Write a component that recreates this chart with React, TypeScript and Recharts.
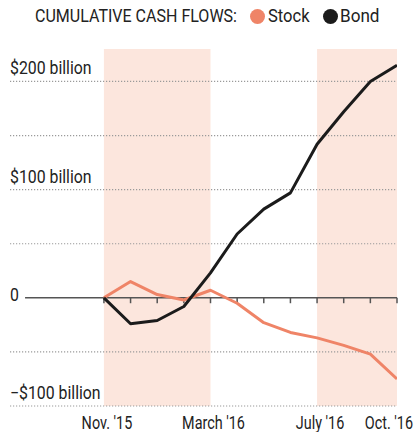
import { ComposedChart, Line, XAxis, YAxis, ReferenceLine, ReferenceArea } from "recharts";

const MONTHS = ["Nov. '15", "Dec.", "Jan.", "Feb.", "March '16", "April", "May", "June", "July '16", "Aug.", "Sept.", "Oct. '16"];
const LABELED_MONTHS = [0, 4, 8, 11];
const STOCK = [0, 15, 3, -2, 7, -5, -23, -32, -37, -44, -52, -75];
const BOND = [0, -24, -21, -8, 23, 59, 82, 97, 142, 172, 200, 215];
const GRID_VALUES = [-100, -50, 50, 100, 150, 200];
const Y_TICKS = [-100, 0, 100, 200];
const Y_LABELS: Record<number, string> = { 200: "$200 billion", 100: "$100 billion", 0: "0", [-100]: "\u2212$100 billion" };
const SHADED: [number, number][] = [[0, 4], [8, 11]];

const FONT = "Roboto, 'Liberation Sans', sans-serif";
const TEXT = "#222";
const STOCK_COLOR = "#ef8467";
const BOND_COLOR = "#1b1b1b";
const BAND = "#fce6dd";

const data = MONTHS.map((label, i) => ({ i, label, stock: STOCK[i], bond: BOND[i] }));

// narrow the font a bit, the original uses a condensed face
function Narrow({ x, y, s, anchor = "start", children }: any) {
  return (
    <text
      transform={`translate(${x} ${y}) scale(${s} 1)`}
      textAnchor={anchor}
      fontFamily={FONT}
      fontSize={18}
      fill={TEXT}
    >
      {children}
    </text>
  );
}

function XTick({ x, payload }: any) {
  const i = payload.value as number;
  const last = i === MONTHS.length - 1;
  return (
    <Narrow x={last ? x + 16 : x + 3} y={429} s={0.8} anchor={last ? "end" : "middle"}>
      {MONTHS[i]}
    </Narrow>
  );
}

function yLabel(v: number) {
  return ({ viewBox }: any) => (
    <Narrow x={10} y={v === 0 ? viewBox.y + 3 : viewBox.y - 7} s={0.88}>
      {Y_LABELS[v]}
    </Narrow>
  );
}

const legendText = (s: number) => ({
  position: "absolute" as const,
  top: 5,
  display: "inline-block",
  transform: `scaleX(${s})`,
  transformOrigin: "left",
  whiteSpace: "nowrap" as const,
});

export default function App() {
  return (
    <div style={{ position: "absolute", left: 0, top: 0, width: 416, height: 432, background: "#fff" }}>
      <div style={{ position: "absolute", left: 0, top: 0, width: 416, height: 34, fontFamily: FONT, fontSize: 18, color: TEXT }}>
        <span style={{ ...legendText(0.89), left: 35 }}>CUMULATIVE CASH FLOWS:</span>
        <span style={{ position: "absolute", left: 250, top: 9, width: 15, height: 15, borderRadius: "50%", background: STOCK_COLOR }} />
        <span style={{ ...legendText(0.92), left: 268 }}>Stock</span>
        <span style={{ position: "absolute", left: 323, top: 9, width: 15, height: 15, borderRadius: "50%", background: BOND_COLOR }} />
        <span style={{ ...legendText(0.95), left: 340 }}>Bond</span>
      </div>
      <ComposedChart width={416} height={432} data={data} margin={{ top: 49, right: 19, bottom: 0, left: 10 }}>
        <XAxis
          type="number"
          dataKey="i"
          domain={[-3.525, 11]}
          ticks={LABELED_MONTHS}
          allowDataOverflow
          axisLine={false}
          tickLine={false}
          height={26}
          tick={<XTick />}
          interval={0}
        />
        <YAxis type="number" domain={[-100, 230]} allowDataOverflow hide width={0} />
        {SHADED.map(([a, b]) => (
          <ReferenceArea key={a} x1={a} x2={b} y1={-100} y2={230} fill={BAND} fillOpacity={1} stroke="none" />
        ))}
        {GRID_VALUES.map((v) => (
          <ReferenceLine key={v} y={v} stroke="#9a9a9a" strokeWidth={1.2} strokeDasharray="1.2 1.8" />
        ))}
        <ReferenceLine segment={[{ x: -2.96, y: 0 }, { x: 11, y: 0 }]} stroke="#555" strokeWidth={1.5} />
        {MONTHS.map((m, i) => (
          <ReferenceLine key={m} segment={[{ x: i, y: 0 }, { x: i, y: -5 }]} stroke="#555" strokeWidth={1.5} />
        ))}
        {Y_TICKS.map((v) => (
          <ReferenceLine key={`l${v}`} y={v} stroke="none" label={yLabel(v)} />
        ))}
        <Line type="linear" dataKey="stock" stroke={STOCK_COLOR} strokeWidth={3} dot={false} strokeLinejoin="round" isAnimationActive={false} />
        <Line type="linear" dataKey="bond" stroke={BOND_COLOR} strokeWidth={3} dot={false} strokeLinejoin="round" isAnimationActive={false} />
      </ComposedChart>
    </div>
  );
}
